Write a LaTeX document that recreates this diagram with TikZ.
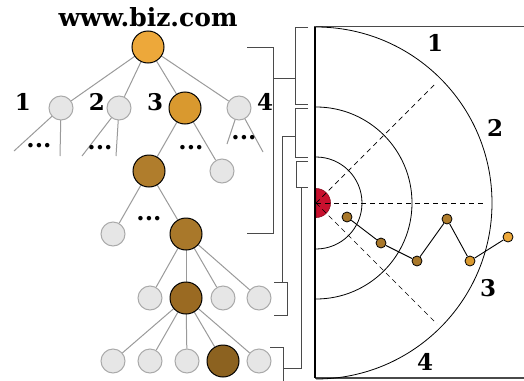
\documentclass[tikz,border=0pt]{standalone}
\usepackage{fontspec}
\setmainfont{DejaVu Serif}
\usetikzlibrary{calc}
\pgfdeclarelayer{bg}
\pgfsetlayers{bg,main}
\definecolor{gfill}{HTML}{E6E6E6}
\definecolor{gline}{HTML}{AAAAAA}
\definecolor{edgec}{HTML}{9A9A9A}
\definecolor{brk}{HTML}{4A4A4A}
\definecolor{c0}{HTML}{EDA83A}
\definecolor{c1}{HTML}{D9992F}
\definecolor{c2}{HTML}{B07D2C}
\definecolor{c3}{HTML}{A9782A}
\definecolor{c4}{HTML}{9A6A22}
\definecolor{c5}{HTML}{8C6220}
\definecolor{redc}{HTML}{C8102E}
\tikzset{
  gnode/.style={circle,fill=gfill,draw=gline,line width=1pt,minimum size=24pt,inner sep=0pt},
  onode/.style={circle,fill=#1,draw=black,line width=1pt,minimum size=32pt,inner sep=0pt},
  wnode/.style={circle,fill=#1,draw=black,line width=0.8pt,minimum size=10pt,inner sep=0pt},
  lab/.style={font=\bfseries\fontsize{23}{23}\selectfont,inner sep=0pt},
  dots/.style={font=\bfseries\fontsize{24}{24}\selectfont,inner sep=0pt},
  edge/.style={draw=edgec,line width=1pt},
  bracket/.style={draw=brk,line width=1pt},
}
\begin{document}
\begin{tikzpicture}[x=1pt,y=-1pt]
\useasboundingbox (0,0) rectangle (524,380);
% ---------- tree ----------
\node[font=\bfseries\fontsize{25}{25}\selectfont,inner sep=0pt] (title) at (148,17) {www.biz.com};
\node[onode=c0] (root) at (148,47) {};
\node[gnode] (a1) at (61,108) {};
\node[gnode] (a2) at (119,108) {};
\node[onode=c1] (a3) at (185,108) {};
\node[gnode] (a4) at (239,108) {};
\node[onode=c2] (b1) at (149,171) {};
\node[gnode] (b2) at (222,171) {};
\node[gnode] (c1n) at (113,234) {};
\node[onode=c3] (c2n) at (186,234) {};
\node[gnode] (d1) at (150,298) {};
\node[onode=c4] (d2) at (186,298) {};
\node[gnode] (d3) at (223,298) {};
\node[gnode] (d4) at (259,298) {};
\node[gnode] (e1) at (113,361) {};
\node[gnode] (e2) at (150,361) {};
\node[gnode] (e3) at (187,361) {};
\node[onode=c5] (e4) at (223,361) {};
\node[gnode] (e5) at (259,361) {};
\coordinate (f1a) at (14,151);
\coordinate (f1b) at (60,156);
\coordinate (f2a) at (82,156);
\coordinate (f2b) at (116,156);
\coordinate (f4a) at (227,144);
\coordinate (f4b) at (263,152);
\begin{pgfonlayer}{bg}
\foreach \s/\t in {root/a1,root/a2,root/a3,root/a4,a1/f1a,a1/f1b,a2/f2a,a2/f2b,a4/f4a,a4/f4b,
  a3/b1,a3/b2,b1/c1n,b1/c2n,c2n/d1,c2n/d2,c2n/d3,c2n/d4,d2/e1,d2/e2,d2/e3,d2/e4,d2/e5}
  \draw[edge] (\s.center) -- (\t);
\end{pgfonlayer}
\node[lab] (l1) at (23,102) {1};
\node[lab] (l2) at (97,102) {2};
\node[lab] (l3) at (155,102) {3};
\node[lab] (l4) at (265,102) {4};
\node[dots] (d1t) at (39,146) {...};
\node[dots] (d2t) at (100,148) {...};
\node[dots] (d3t) at (191,148) {...};
\node[dots] (d4t) at (244,138) {...};
\node[dots] (d5t) at (149,219) {...};
% ---------- brackets ----------
\coordinate (A1) at (247,47);
\coordinate (A2) at (273,47);
\coordinate (A3) at (273,233);
\coordinate (A4) at (247,233);
\draw[bracket] (A1) -- (A2) -- (A3) -- (A4);
\coordinate (Am) at (273,78);
\coordinate (B1m) at (295,78);
\draw[bracket] (Am) -- (B1m);
\coordinate (B1a) at (308,27);
\coordinate (B1b) at (295,27);
\coordinate (B1c) at (295,104);
\coordinate (B1d) at (308,104);
\draw[bracket] (B1a) -- (B1b) -- (B1c) -- (B1d);
\coordinate (B2a) at (308,108);
\coordinate (B2b) at (295,108);
\coordinate (B2c) at (295,157);
\coordinate (B2d) at (308,157);
\draw[bracket] (B2a) -- (B2b) -- (B2c) -- (B2d);
\coordinate (B2m) at (295,136);
\coordinate (K1) at (282,136);
\coordinate (C3m) at (282,282);
\draw[bracket] (B2m) -- (K1) -- (C3m);
\coordinate (C3a) at (274,282);
\coordinate (C3b) at (287,282);
\coordinate (C3c) at (287,315);
\coordinate (C3d) at (274,315);
\draw[bracket] (C3a) -- (C3b) -- (C3c) -- (C3d);
\coordinate (B3a) at (308,161);
\coordinate (B3b) at (296,161);
\coordinate (B3c) at (296,187);
\coordinate (B3d) at (308,187);
\draw[bracket] (B3a) -- (B3b) -- (B3c) -- (B3d);
\coordinate (B3m) at (301,187);
\coordinate (K2) at (301,368);
\coordinate (C4m) at (283,368);
\draw[bracket] (B3m) -- (K2) -- (C4m);
\coordinate (C4a) at (270,347);
\coordinate (C4b) at (283,347);
\coordinate (C4c) at (283,381);
\draw[bracket] (C4a) -- (C4b) -- (C4c);
% ---------- right panel ----------
\coordinate (O) at (316,203);
\coordinate (T0) at (314,26);
\coordinate (T1) at (524,26);
\coordinate (Bt0) at (315,378);
\coordinate (Bt1) at (524,378);
\draw[draw=brk,line width=1pt] (T0) -- (T1);
\draw[draw=brk,line width=1.2pt] (Bt0) -- (Bt1);
\filldraw[fill=redc,draw=redc!70!black,line width=0.6pt] (316,188.5) arc[start angle=-90,end angle=90,radius=14.5] -- cycle;
\draw[black,line width=0.8pt] (O) ++(0,-176) arc[start angle=-90,end angle=90,radius=176];
\draw[black,line width=0.8pt] (O) ++(0,-96) arc[start angle=-90,end angle=90,radius=96];
\draw[black,line width=0.8pt] (O) ++(0,-46) arc[start angle=-90,end angle=90,radius=46];
\coordinate (D1) at ($(O)+(45:171)$);
\coordinate (D2) at ($(O)+(0:168)$);
\coordinate (D3) at ($(O)+(-45:170)$);
\draw[dashed,line width=0.7pt,dash pattern=on 5pt off 4pt] (O) -- (D1);
\draw[dashed,line width=0.7pt,dash pattern=on 5pt off 4pt] (O) -- (D2);
\draw[dashed,line width=0.7pt,dash pattern=on 5pt off 4pt] (O) -- (D3);
\coordinate (V0) at (315,27);
\coordinate (V1) at (315,378);
\draw[black,line width=1.3pt] (V0) -- (V1);
\node[wnode=c3] (p1) at (347,217) {};
\node[wnode=c3] (p2) at (381,243) {};
\node[wnode=c3] (p3) at (417,261) {};
\node[wnode=c2] (p4) at (447,219) {};
\node[wnode=c1] (p5) at (470,261) {};
\node[wnode=c0] (p6) at (508,237) {};
\draw[black,line width=0.9pt] (p1) -- (p2) -- (p3) -- (p4) -- (p5) -- (p6);
\node[lab] (r1) at (435,43) {1};
\node[lab] (r2) at (495,128) {2};
\node[lab] (r3) at (488,288) {3};
\node[lab] (r4) at (425,362) {4};
\end{tikzpicture}
\end{document}
